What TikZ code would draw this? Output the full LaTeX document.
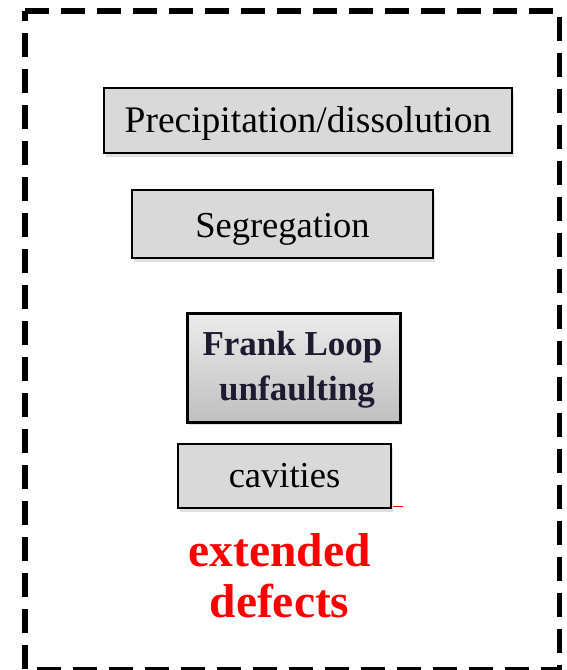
\documentclass[tikz,border=0pt]{standalone}
\usepackage{fontspec}
\setmainfont{Liberation Serif}
\usetikzlibrary{shadows}
\definecolor{boxgray}{HTML}{D9D9D9}
\definecolor{frankink}{HTML}{1E1A30}
\definecolor{defred}{HTML}{FF0000}
\tikzset{
  frame/.style={line width=5.5pt, dash pattern=on 24pt off 12pt},
  procbox/.style={draw=black, fill=boxgray, line width=1.5pt, inner sep=0pt,
    drop shadow={shadow xshift=2pt, shadow yshift=-4pt, fill=black, opacity=0.12}},
  boxtext/.style={font=\fontsize{36.5}{40}\selectfont, text=black},
  franktext/.style={font=\fontsize{35}{40}\selectfont\bfseries, text=frankink, anchor=base},
  redtext/.style={font=\fontsize{47.5}{51}\selectfont\bfseries, text=defred, anchor=base}
}
\begin{document}
\begin{tikzpicture}[x=1pt, y=-1pt]
\useasboundingbox (0,0) rectangle (566,670);
% dashed frame
\coordinate (tl) at (25,11);
\coordinate (tr) at (559.5,11);
\coordinate (br) at (559.5,669.5);
\coordinate (bl) at (25,669.5);
\begin{scope}
\clip (0,0) rectangle (566,670);
\draw[frame] (tl) -- (tr) -- (br) -- (bl) -- cycle;
\end{scope}
% boxes
\node[procbox, boxtext, font=\fontsize{37.5}{40}\selectfont, minimum width=408pt, minimum height=65pt,
      text height=25pt, text depth=2pt] (prec) at (308,120.5) {Precipitation/dissolution};
\node[procbox, boxtext, line width=2.4pt, minimum width=301pt, minimum height=68pt,
      text height=26pt, text depth=0pt] (seg) at (282.5,224) {Segregation};
\node[draw=black, line width=3pt, inner sep=0pt, minimum width=213pt, minimum height=109pt,
      top color=gray!15, bottom color=gray!50,
      drop shadow={shadow xshift=2pt, shadow yshift=-3pt, fill=black, opacity=0.12}] (frank) at (293.5,367.5) {};
\node[franktext] (frank1) at (292.5,355) {Frank Loop};
\node[franktext] (frank2) at (297,400) {unfaulting};
\node[procbox, boxtext, minimum width=213pt, minimum height=64pt,
      text height=22pt, text depth=0pt] (cav) at (284.5,476) {cavities};
\coordinate (m1) at (393,506.5);
\coordinate (m2) at (403,506.5);
\draw[defred, line width=1.5pt] (m1) -- (m2);
% red label
\node[redtext] (ext) at (279.5,566) {extended};
\node[redtext] (def) at (279.5,617) {defects};
\end{tikzpicture}
\end{document}
